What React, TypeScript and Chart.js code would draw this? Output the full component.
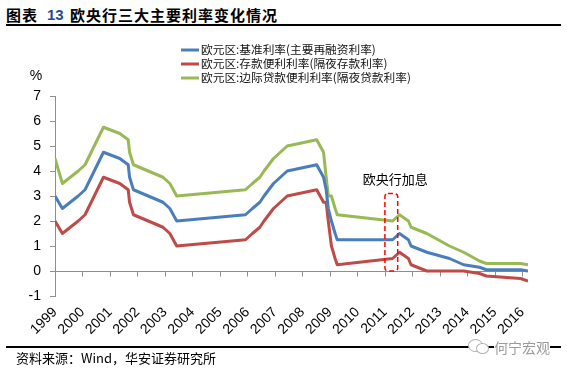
import React, { useEffect, useRef } from "react";
import { Chart, registerables } from "chart.js";

Chart.register(...registerables);

const titleLead = "图表";
const titleNumber = "13";
const titleText = "欧央行三大主要利率变化情况";
const sourceText = "资料来源：Wind，华安证券研究所";
const watermarkText = "何宁宏观";
const yUnit = "%";

const seriesNames = [
  "欧元区:基准利率(主要再融资利率)",
  "欧元区:存款便利利率(隔夜存款利率)",
  "欧元区:边际贷款便利利率(隔夜贷款利率)",
];
const seriesColors = ["#4A7EBB", "#BE4B48", "#98B954"];

const dates = [
  "1999-01-01", "1999-04-09", "1999-11-05", "2000-02-04",
  "2000-10-06", "2001-05-11", "2001-08-31", "2001-09-18",
  "2001-11-09", "2002-12-06", "2003-03-07", "2003-06-06", "2005-12-06", "2006-03-08",
  "2006-06-15", "2006-08-09", "2006-10-11", "2006-12-13", "2007-03-14", "2007-06-13",
  "2008-07-09", "2008-10-08", "2008-11-12", "2008-12-10", "2009-01-21", "2009-03-11",
  "2009-04-08", "2011-04-13", "2011-07-13", "2011-11-09", "2011-12-14", "2012-07-11",
  "2013-05-08", "2013-11-13", "2014-06-11", "2014-09-10", "2015-12-09", "2016-03-16",
];
const mainRefiRate = [
  3.0, 2.5, 3.0, 3.25,
  4.75, 4.5, 4.25, 3.75,
  3.25, 2.75, 2.5, 2.0, 2.25, 2.5,
  2.75, 3.0, 3.25, 3.5, 3.75, 4.0,
  4.25, 3.75, 3.25, 2.5, 2.0, 1.5,
  1.25, 1.25, 1.5, 1.25, 1.0, 0.75,
  0.5, 0.25, 0.15, 0.05, 0.05, 0.0,
];
const depositRate = [
  2.0, 1.5, 2.0, 2.25,
  3.75, 3.5, 3.25, 2.75,
  2.25, 1.75, 1.5, 1.0, 1.25, 1.5,
  1.75, 2.0, 2.25, 2.5, 2.75, 3.0,
  3.25, 2.75, 2.75, 2.0, 1.0, 0.5,
  0.25, 0.5, 0.75, 0.5, 0.25, 0.0,
  0.0, 0.0, -0.1, -0.2, -0.3, -0.4,
];
const marginalRate = [
  4.5, 3.5, 4.0, 4.25,
  5.75, 5.5, 5.25, 4.75,
  4.25, 3.75, 3.5, 3.0, 3.25, 3.5,
  3.75, 4.0, 4.25, 4.5, 4.75, 5.0,
  5.25, 4.75, 3.75, 3.0, 3.0, 2.5,
  2.25, 2.0, 2.25, 2.0, 1.75, 1.5,
  1.0, 0.75, 0.4, 0.3, 0.3, 0.25,
];
const yearLabels = [
  1999, 2000, 2001, 2002, 2003, 2004, 2005, 2006, 2007,
  2008, 2009, 2010, 2011, 2012, 2013, 2014, 2015, 2016,
];
const yMin = -1;
const yMax = 7;

const hikeLabel = "欧央行加息";
const hikeFrom = "2011-01-01";
const hikeTo = "2011-06-20";
const hikeBottom = 0;
const hikeTop = 3.1;

function toYear(s: string): number {
  const d = new Date(s + "T00:00:00Z");
  const y = d.getUTCFullYear();
  const a = Date.UTC(y, 0, 1);
  const b = Date.UTC(y + 1, 0, 1);
  return y + (d.getTime() - a) / (b - a);
}

const AXIS_FONT = "'Liberation Sans', Arial, sans-serif";
const CJK_FONT = "'Noto Sans CJK SC', 'Noto Sans', sans-serif";

const decorPlugin = {
  id: "decor",
  beforeDatasetsDraw(chart: any) {
    const { ctx, chartArea, scales } = chart;
    const x = scales.x;
    const y = scales.y;
    const y0 = Math.round(y.getPixelForValue(0)) + 0.5;
    ctx.save();
    ctx.strokeStyle = "#8E8E8E";
    ctx.lineWidth = 1;
    ctx.beginPath();
    ctx.moveTo(chartArea.left, y0);
    ctx.lineTo(chartArea.right, y0);
    yearLabels.forEach((v) => {
      const px = Math.round(x.getPixelForValue(v)) + 0.5;
      ctx.moveTo(px, y0);
      ctx.lineTo(px, y0 + 5);
    });
    ctx.stroke();
    ctx.restore();
  },
  afterDatasetsDraw(chart: any) {
    const { ctx, scales } = chart;
    const x = scales.x;
    const y = scales.y;
    const x1 = x.getPixelForValue(toYear(hikeFrom));
    const x2 = x.getPixelForValue(toYear(hikeTo));
    const yt = y.getPixelForValue(hikeTop);
    const yb = y.getPixelForValue(hikeBottom);
    ctx.save();
    ctx.strokeStyle = "#FF0000";
    ctx.lineWidth = 1.5;
    ctx.setLineDash([5, 3]);
    ctx.beginPath();
    if (ctx.roundRect) ctx.roundRect(x1, yt, x2 - x1, yb - yt, 3);
    else ctx.rect(x1, yt, x2 - x1, yb - yt);
    ctx.stroke();
    ctx.setLineDash([]);
    ctx.fillStyle = "#000";
    ctx.font = `13px ${CJK_FONT}`;
    ctx.textAlign = "center";
    ctx.textBaseline = "middle";
    ctx.fillText(hikeLabel, (x1 + x2) / 2 + 4, yt - 14);
    ctx.restore();
  },
  afterDraw(chart: any) {
    const { ctx, scales } = chart;
    const y = scales.y;
    ctx.save();
    const rows = [50, 64, 78];
    chart.data.datasets.forEach((ds: any, i: number) => {
      const ry = rows[i];
      ctx.strokeStyle = ds.borderColor;
      ctx.lineWidth = 3;
      ctx.beginPath();
      ctx.moveTo(181, ry);
      ctx.lineTo(199, ry);
      ctx.stroke();
      ctx.fillStyle = "#111";
      ctx.font = `11.7px ${CJK_FONT}`;
      ctx.textAlign = "left";
      ctx.textBaseline = "middle";
      ctx.fillText(ds.label, 201, ry);
    });
    ctx.fillStyle = "#000";
    ctx.font = `14px ${AXIS_FONT}`;
    ctx.textAlign = "center";
    ctx.textBaseline = "middle";
    ctx.fillText(yUnit, y.right - 19, y.top - 20);
    ctx.restore();
  },
};

export default function App() {
  const ref = useRef<HTMLCanvasElement | null>(null);

  useEffect(() => {
    if (!ref.current) return;
    const xs = dates.map(toYear);
    const series = [mainRefiRate, depositRate, marginalRate];
    const chart = new Chart(ref.current, {
      type: "line",
      data: {
        datasets: series.map((vals, i) => ({
          label: seriesNames[i],
          data: vals.map((v, j) => ({ x: xs[j], y: v })),
          borderColor: seriesColors[i],
          backgroundColor: seriesColors[i],
          borderWidth: 3,
          pointRadius: 0,
          tension: 0,
          borderJoinStyle: "round",
          fill: false,
        })),
      },
      options: {
        responsive: false,
        animation: false,
        layout: { padding: { top: 96, right: 39, left: 0, bottom: 0 } },
        plugins: {
          legend: { display: false },
          tooltip: { enabled: false },
          title: { display: false },
        },
        scales: {
          x: {
            type: "linear",
            min: xs[0],
            max: xs[xs.length - 1],
            afterBuildTicks: (s: any) => {
              s.ticks = yearLabels.map((v) => ({ value: v }));
            },
            afterFit: (s: any) => {
              s.height = 75;
            },
            grid: { display: false, drawTicks: false },
            border: { display: false },
            ticks: {
              autoSkip: false,
              minRotation: 45,
              maxRotation: 45,
              padding: 8,
              color: "#000",
              font: { family: AXIS_FONT, size: 14 },
              callback: (v: any) => String(v),
            },
          },
          y: {
            min: yMin,
            max: yMax,
            afterFit: (s: any) => {
              s.width = 55;
            },
            grid: { drawOnChartArea: false, tickLength: 5, color: "#8E8E8E" },
            border: { color: "#8E8E8E", width: 1 },
            ticks: {
              stepSize: 1,
              padding: 9,
              color: "#000",
              font: { family: AXIS_FONT, size: 14 },
            },
          },
        },
      },
      plugins: [decorPlugin],
    } as any);
    return () => chart.destroy();
  }, []);

  const cjk = CJK_FONT;
  return (
    <div
      style={{
        position: "fixed",
        left: 0,
        top: 0,
        width: 567,
        height: 371,
        background: "#fff",
        overflow: "hidden",
      }}
    >
      <span style={{ position: "absolute", left: 6, top: 5, fontFamily: cjk, fontWeight: 700, fontSize: 15, lineHeight: "20px", letterSpacing: 1, color: "#000", whiteSpace: "nowrap" }}>{titleLead}</span>
      <span style={{ position: "absolute", left: 47, top: 5, fontFamily: AXIS_FONT, fontWeight: 700, fontSize: 15, lineHeight: "20px", color: "#1F4E8C", whiteSpace: "nowrap" }}>{titleNumber}</span>
      <span style={{ position: "absolute", left: 70, top: 5, fontFamily: cjk, fontWeight: 700, fontSize: 15, lineHeight: "20px", letterSpacing: 1, color: "#000", whiteSpace: "nowrap" }}>{titleText}</span>
      <div style={{ position: "absolute", left: 6, top: 24, width: 555, height: 1.5, background: "#000" }} />
      <canvas ref={ref} width={567} height={371} style={{ position: "absolute", left: 0, top: 0 }} />
      <div style={{ position: "absolute", left: 6, top: 346, width: 555, height: 1.5, background: "#000" }} />
      <span style={{ position: "absolute", left: 16, top: 349, fontFamily: cjk, fontSize: 13, lineHeight: "18px", color: "#000", whiteSpace: "nowrap" }}>{sourceText}</span>
      <div style={{ position: "absolute", left: 468, top: 339, width: 13, height: 11, border: "1.5px solid #B0B0B0", borderRadius: "50%", background: "#fff" }} />
      <div style={{ position: "absolute", left: 476, top: 343, width: 11, height: 9, border: "1.5px solid #B0B0B0", borderRadius: "50%", background: "#fff" }} />
      <span style={{ position: "absolute", left: 494, top: 338, fontFamily: cjk, fontSize: 14, lineHeight: "18px", color: "#9A9A9A", background: "#fff", whiteSpace: "nowrap" }}>{watermarkText}</span>
    </div>
  );
}
